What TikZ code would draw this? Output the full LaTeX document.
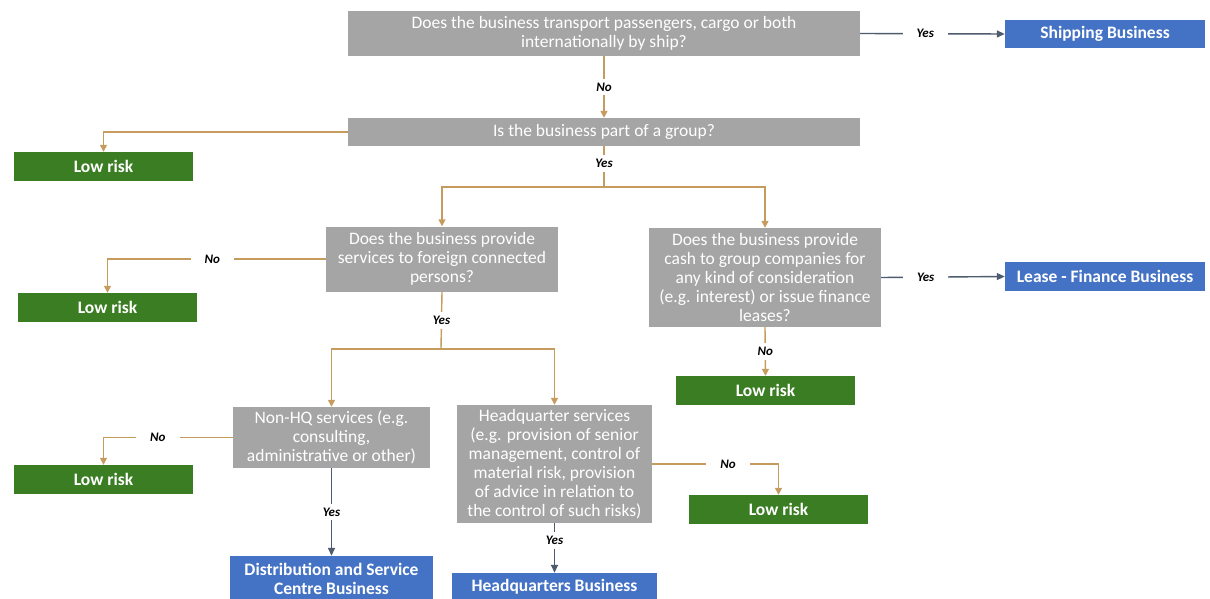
\documentclass[tikz,border=0pt]{standalone}
\usepackage{fontspec}
\setmainfont{Carlito}
\usetikzlibrary{arrows.meta}
\definecolor{qgray}{HTML}{A5A5A5}
\definecolor{lgreen}{HTML}{3B7D23}
\definecolor{bblue}{HTML}{4472C4}
\definecolor{tan}{HTML}{C69C5E}
\definecolor{dark}{HTML}{4F5B6E}
\tikzset{
  qbox/.style={fill=qgray, text=white, align=center, inner sep=0pt, font=\fontsize{17.5}{19}\selectfont},
  lowbox/.style={fill=lgreen, text=white, align=center, inner sep=0pt, minimum width=179pt, minimum height=29pt, font=\bfseries\fontsize{17.5}{19}\selectfont},
  bizbox/.style={fill=bblue, text=white, align=center, inner sep=0pt, font=\bfseries\fontsize{17.5}{19}\selectfont},
  tanline/.style={draw=tan, line width=1.4pt, -{Triangle[length=7pt,width=7pt]}},
  darkline/.style={draw=dark, line width=1.4pt, -{Triangle[length=8pt,width=7pt]}},
  lbl/.style={fill=white, text=black, inner xsep=14pt, inner ysep=4pt, font=\bfseries\itshape\fontsize{13}{14}\selectfont}
}
\begin{document}
\begin{tikzpicture}[x=1pt,y=-1pt]
\useasboundingbox (0,0) rectangle (1210,599);
% question boxes
\node[qbox, minimum width=512pt, minimum height=45pt] (q1) at (604,33.5) {Does the business transport passengers, cargo or both\\internationally by ship?};
\node[qbox, minimum width=512pt, minimum height=28pt] (q2) at (604,132) {Is the business part of a group?};
\node[qbox, minimum width=232pt, minimum height=65pt] (q3) at (442,259) {Does the business provide\\services to foreign connected\\persons?};
\node[qbox, minimum width=232pt, minimum height=99pt] (q4) at (765,277.5) {Does the business provide\\cash to group companies for\\any kind of consideration\\(e.g. interest) or issue finance\\leases?};
\node[qbox, minimum width=197pt, minimum height=61pt] (q5) at (331.5,437.5) {Non-HQ services (e.g.\\consulting,\\administrative or other)};
\node[qbox, minimum width=195pt, minimum height=118pt] (q6) at (554.5,464) {Headquarter services\\(e.g. provision of senior\\management, control of\\material risk, provision\\of advice in relation to\\the control of such risks)};
% low risk boxes
\node[lowbox] (l1) at (103.5,166.5) {Low risk};
\node[lowbox] (l2) at (107.5,307.5) {Low risk};
\node[lowbox] (l3) at (765.5,390.5) {Low risk};
\node[lowbox] (l4) at (103.5,479.5) {Low risk};
\node[lowbox] (l5) at (778.5,509.5) {Low risk};
% business boxes
\node[bizbox, minimum width=200pt, minimum height=28pt] (ship) at (1105,34) {Shipping Business};
\node[bizbox, minimum width=200pt, minimum height=29pt] (lease) at (1105,276.5) {Lease - Finance Business};
\node[bizbox, minimum width=203pt, minimum height=46pt] (dist) at (331.5,579) {Distribution and Service\\Centre Business};
\node[bizbox, minimum width=205pt, minimum height=28pt] (hq) at (554.5,587) {Headquarters Business};
% junctions
\coordinate (j1) at (604,187);
\coordinate (j2) at (441,349);
% connectors
\draw[tanline] (q1) -- node[lbl] {No} (q2);
\draw[tanline] (q2.west) -| (l1.north);
\draw[draw=tan, line width=1.4pt] (q2.south) -- node[lbl, pos=0.42] {Yes} (j1);
\draw[tanline] (j1) -| (q3.north);
\draw[tanline] (j1) -| (q4.north);
\draw[tanline] (q3.west) -- node[lbl, pos=0.52] {No} (q3.west -| l2.north) -- (l2.north);
\draw[darkline] (q4.east) -- node[lbl, pos=0.36] {Yes} (lease.west);
\draw[tanline] (q4.south) -- node[lbl, pos=0.5] {No} (l3.north);
\draw[draw=tan, line width=1.4pt] (q3.south) -- node[lbl, pos=0.5] {Yes} (j2);
\draw[tanline] (j2) -| (q5.north);
\draw[tanline] (j2) -| (q6.north);
\draw[tanline] (q5.west) -- node[lbl, pos=0.58] {No} (q5.west -| l4.north) -- (l4.north);
\draw[darkline] (q5.south) -- node[lbl] {Yes} (dist.north);
\draw[tanline] (q6.east) -- node[lbl, pos=0.6] {No} (q6.east -| l5.north) -- (l5.north);
\draw[darkline] (q6.south) -- node[lbl, pos=0.35] {Yes} (hq.north);
\draw[darkline] (q1.east) -- node[lbl, pos=0.45] {Yes} (ship.west);
\end{tikzpicture}
\end{document}
